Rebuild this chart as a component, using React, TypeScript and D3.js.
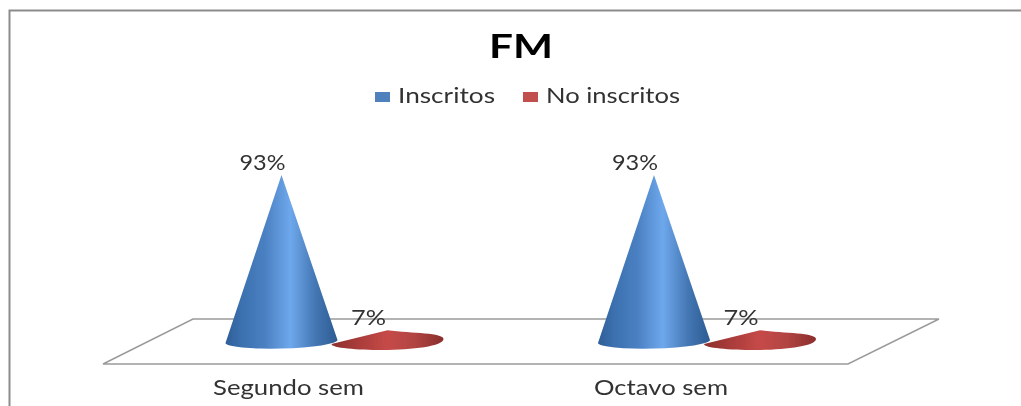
import React from "react";
import * as d3 from "d3";

const title = "FM";
const categories = ["Segundo sem", "Octavo sem"];
const seriesNames = ["Inscritos", "No inscritos"];
const inscritos = [93, 93];
const noInscritos = [7, 7];
const seriesColors = ["#4f81bd", "#c0504d"];

const W = 1021;
const H = 406;
const FONT = "Lato, 'Open Sans', sans-serif";
const legendX = [375, 523];
const legendTextWidth = [97, 134];
const categoryTextWidth = [151, 134];

const x0 = d3.scaleBand<string>().domain(categories).range([148.25, 893.25]);
const x1 = d3.scaleBand<string>().domain(seriesNames).range([0, x0.bandwidth()]).paddingInner(0).paddingOuter(0.757);
const y = d3.scaleLinear().domain([0, 100]).range([343, 162.4]);

const floor = d3.line()([[193, 319], [939, 319], [848, 364], [103, 364]]) + "Z";

function cone(cx: number, value: number, rx: number) {
  const apex = y(value);
  if (value < 20) {
    const l = y(0) + 1;
    const r = y(0) - 4;
    return `M${cx - rx},${l}L${cx},${apex}C${cx + 25},${apex + 3} ${cx + rx},${r - 6} ${cx + rx},${r}C${cx + rx},${r + 7} ${cx + 25},${y(0) + 7} ${cx - 5},${y(0) + 7}C${cx - 30},${y(0) + 7} ${cx - rx},${l + 4} ${cx - rx},${l}Z`;
  }
  const base = y(0) - 1.5;
  return `M${cx - rx},${base + 1.5}L${cx},${apex}L${cx + rx},${base - 1.5}A${rx},7 -1.5 0 1 ${cx - rx},${base + 1.5}Z`;
}

export default function App() {
  const series = [inscritos, noInscritos];
  return (
    <svg width={W} height={H} style={{ position: "fixed", left: 0, top: 0, background: "#fff" }}>
      <defs>
        <linearGradient id="g0" x1="0" x2="1" y1="0" y2="0">
          <stop offset="0" stopColor="#2f5f98" />
          <stop offset="0.15" stopColor="#3c71b0" />
          <stop offset="0.35" stopColor="#4a80c2" />
          <stop offset="0.58" stopColor="#6ea8ec" />
          <stop offset="0.8" stopColor="#4477b4" />
          <stop offset="1" stopColor="#2d5b92" />
        </linearGradient>
        <linearGradient id="g1" x1="0" x2="1" y1="0" y2="0">
          <stop offset="0" stopColor="#8e2f2d" />
          <stop offset="0.5" stopColor="#c64a48" />
          <stop offset="0.75" stopColor="#b04442" />
          <stop offset="1" stopColor="#8a2e2c" />
        </linearGradient>
        <filter id="soft" x="-5%" y="-5%" width="110%" height="110%">
          <feGaussianBlur stdDeviation="0.5" />
        </filter>
      </defs>
      <g filter="url(#soft)">
        <path d="M9.5,406V10.5H1021" fill="none" stroke="#8c8c8c" strokeWidth={2} />
        <path d={floor} fill="#fff" stroke="#9a9a9a" strokeWidth={1.4} />
        <text x={489} y={58} textLength={64} lengthAdjust="spacingAndGlyphs" fontFamily={FONT} fontWeight={700} fontSize={33} fill="#000">{title}</text>
        {seriesNames.map((s, i) => (
          <g key={s}>
            <rect x={legendX[i]} y={92} width={15} height={10} fill={seriesColors[i]} />
            <text x={legendX[i] + 23} y={102.5} textLength={legendTextWidth[i]} lengthAdjust="spacingAndGlyphs" fontFamily={FONT} fontSize={21} fill="#333">{s}</text>
          </g>
        ))}
        {categories.map((c, ci) => (
          <g key={c}>
            {series.map((vals, si) => {
              const cx = x0(c)! + x1(seriesNames[si])! + x1.bandwidth() / 2;
              const v = vals[ci];
              const lw = si === 0 ? 46 : 35;
              return (
                <g key={si}>
                  <path d={cone(cx, v, 56)} fill={`url(#g${si})`} />
                  <text x={cx - 19 - lw / 2} y={si === 0 ? 170 : 325} textLength={lw} lengthAdjust="spacingAndGlyphs" fontFamily={FONT} fontSize={21} fill="#333">{v}%</text>
                </g>
              );
            })}
            <text x={x0(c)! + x0.bandwidth() / 2 - 46 - categoryTextWidth[ci] / 2} y={395} textLength={categoryTextWidth[ci]} lengthAdjust="spacingAndGlyphs" fontFamily={FONT} fontSize={21} fill="#333">{c}</text>
          </g>
        ))}
      </g>
    </svg>
  );
}
